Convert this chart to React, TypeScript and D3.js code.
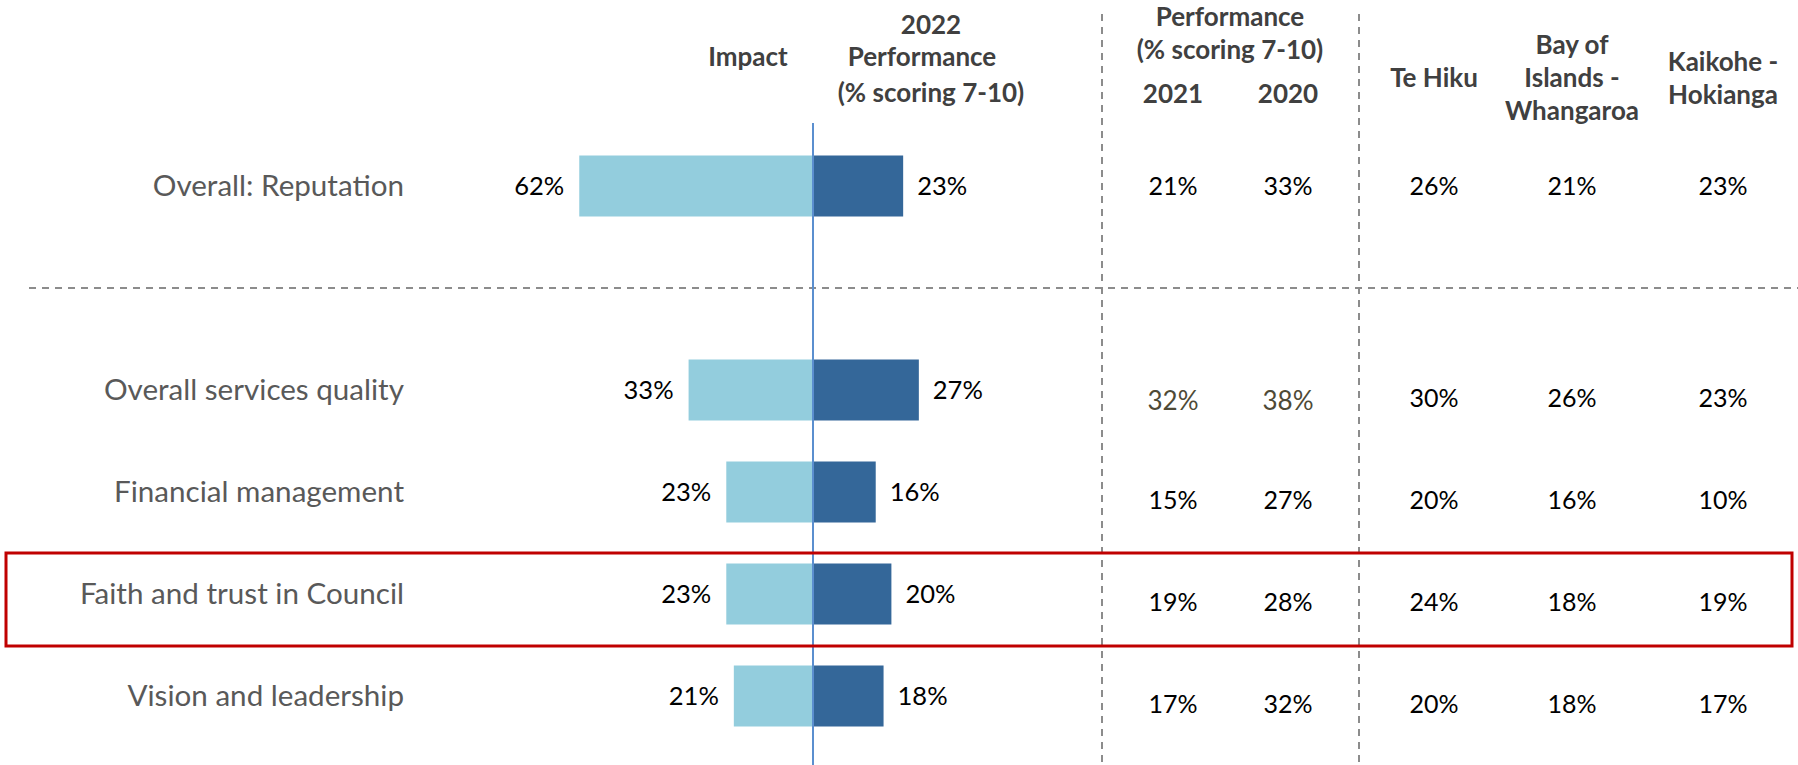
import * as d3 from "d3";

const categories = [
  "Overall: Reputation",
  "Overall services quality",
  "Financial management",
  "Faith and trust in Council",
  "Vision and leadership",
];
// slot of each row (there is an empty slot after the reputation row)
const rowSlots = [0, 2, 3, 4, 5];
const impact = [62, 33, 23, 23, 21];
const perf2022 = [23, 27, 16, 20, 18];
const perf2021 = [21, 32, 15, 19, 17];
const perf2020 = [33, 38, 27, 28, 32];
const teHiku = [26, 30, 20, 24, 20];
const bayOfIslands = [21, 26, 16, 18, 18];
const kaikohe = [23, 23, 10, 19, 17];

const tableCols = [
  { key: "2021", values: perf2021, header: ["2021"] },
  { key: "2020", values: perf2020, header: ["2020"] },
  { key: "tehiku", values: teHiku, header: ["Te Hiku"] },
  { key: "bay", values: bayOfIslands, header: ["Bay of", "Islands -", "Whangaroa"] },
  { key: "kaikohe", values: kaikohe, header: ["Kaikohe -", "Hokianga"] },
];

const App = () => {
  const width = 1798;
  const height = 765;
  const centerX = 813;
  const barH = 61;

  const y = d3.scaleLinear().domain([0, 5]).range([186, 696]);
  // impact bars grow to the left, performance bars grow to the right
  const xImpact = d3.scaleLinear().domain([0, 100]).range([0, 377]);
  const xPerf = d3.scaleLinear().domain([0, 100]).range([0, 392]);
  const colPos = { "2021": 1173, "2020": 1288, tehiku: 1434, bay: 1572, kaikohe: 1723 };

  const font = "Lato, 'Open Sans', sans-serif";
  const headFill = "#404040";

  return (
    <svg width={width} height={height} style={{ position: "absolute", left: 0, top: 0, background: "#fff" }}
      fontFamily={font}>
      {/* headers */}
      <g fontWeight="bold" fontSize={26} fill={headFill} textAnchor="middle">
        <text x={748} y={57} dy="0.35em">Impact</text>
        <text x={931} y={25} dy="0.35em">2022</text>
        <text x={922} y={57} dy="0.35em">Performance</text>
        <text x={931} y={93} dy="0.35em">(% scoring 7-10)</text>
        <text x={1230} y={17} dy="0.35em">Performance</text>
        <text x={1230} y={50} dy="0.35em">(% scoring 7-10)</text>
        {tableCols.map(c => {
          const n = c.header.length;
          const base = c.key === "2021" || c.key === "2020" ? 94 : 78;
          const step = 33;
          return c.header.map((h, i) => (
            <text key={c.key + i} x={colPos[c.key]} y={base + (i - (n - 1) / 2) * step} dy="0.35em">{h}</text>
          ));
        })}
      </g>

      {/* dashed dividers */}
      <g stroke="#8c8c8c" strokeWidth={2} strokeDasharray="7,6" fill="none">
        <line x1={1102} x2={1102} y1={14} y2={height} />
        <line x1={1359} x2={1359} y1={14} y2={height} />
        <line x1={29} x2={width} y1={(y(0) + y(2)) / 2} y2={(y(0) + y(2)) / 2} />
      </g>

      {/* rows */}
      {categories.map((c, i) => {
        const cy = y(rowSlots[i]);
        const wi = xImpact(impact[i]);
        const wp = xPerf(perf2022[i]);
        return (
          <g key={c}>
            <text x={404} y={cy} dy="0.35em" textAnchor="end" fontSize={29.6} fill="#595959">{c}</text>
            <rect x={centerX - wi} y={cy - barH / 2} width={wi} height={barH} fill="#93CDDD" />
            <rect x={centerX} y={cy - barH / 2} width={wp} height={barH} fill="#346799" />
            <text x={centerX - wi - 15} y={cy} dy="0.35em" textAnchor="end" fontSize={25.5} fill="#000">{impact[i]}%</text>
            <text x={centerX + wp + 14} y={cy} dy="0.35em" fontSize={25.5} fill="#000">{perf2022[i]}%</text>
            {tableCols.map((col, j) => {
              const olive = i === 1 && j < 2;
              const off = i === 0 ? 0 : olive ? 11 : 8;
              return (
                <text key={col.key} x={colPos[col.key]} y={cy + off} dy="0.35em" textAnchor="middle"
                  fontSize={olive ? 26 : 25} fill={olive ? "#4E4A36" : "#000"}>{col.values[i]}%</text>
              );
            })}
          </g>
        );
      })}

      {/* centre axis */}
      <line x1={centerX} x2={centerX} y1={123} y2={height} stroke="#5B8FCF" strokeWidth={2} />

      {/* highlight box */}
      <rect x={6} y={553} width={1786} height={93} fill="none" stroke="#C00000" strokeWidth={3} />
    </svg>
  );
};

export default App;
